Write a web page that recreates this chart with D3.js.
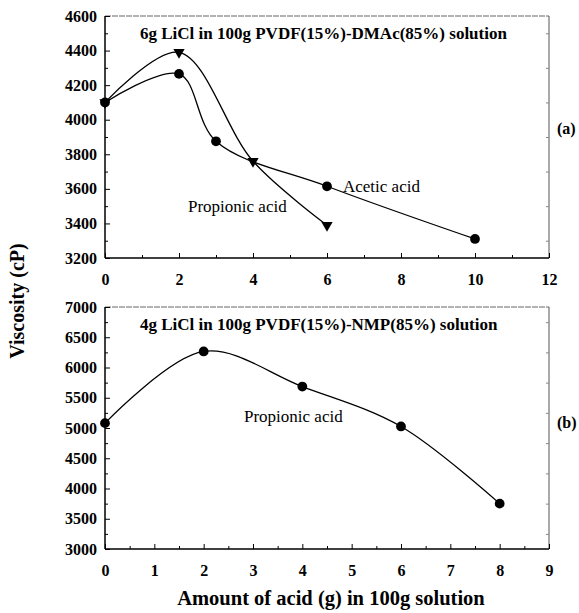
<!DOCTYPE html>
<html>
<head>
<meta charset="utf-8">
<script src="https://cdn.jsdelivr.net/npm/d3@7.9.0/dist/d3.min.js"></script>
<style>
  body { margin: 0; background: #fff; }
  svg { display: block; }
  text { font-family: "Liberation Serif", "Times New Roman", serif; fill: #000; }
  .domain { display: none; }
</style>
</head>
<body>
<svg id="chart" width="579" height="613"></svg>
<script>
// panel (a): 6g LiCl in PVDF/DMAc
const acidAcetic = [0, 2, 3, 6, 10];
const viscAcetic = [4100, 4265, 3875, 3615, 3310];
const acidPropA = [0, 2, 4, 6];
const viscPropA = [4100, 4390, 3760, 3390];
const xTicksA = [0, 2, 4, 6, 8, 10, 12];
const yTicksA = [3200, 3400, 3600, 3800, 4000, 4200, 4400, 4600];

// panel (b): 4g LiCl in PVDF/NMP
const acidPropB = [0, 2, 4, 6, 8];
const viscPropB = [5080, 6265, 5685, 5025, 3750];
const xTicksB = [0, 1, 2, 3, 4, 5, 6, 7, 8, 9];
const yTicksB = [3000, 3500, 4000, 4500, 5000, 5500, 6000, 6500, 7000];

const svg = d3.select("#chart");
const left = 105, right = 549;
const serif = '"Liberation Serif", "Times New Roman", serif';

function panel(top, bottom, xDom, yDom, xTicks, yTicks, xMinor, yMinor) {
  const x = d3.scaleLinear().domain(xDom).range([left, right]);
  const y = d3.scaleLinear().domain(yDom).range([bottom, top]);
  const g = svg.append("g");

  // frame: top and right thin grey
  g.append("line").attr("x1", left).attr("x2", right).attr("y1", top).attr("y2", top)
    .attr("stroke", "#666").attr("stroke-width", 1).attr("stroke-dasharray", "6,1");
  g.append("line").attr("x1", right).attr("x2", right).attr("y1", top).attr("y2", bottom)
    .attr("stroke", "#555").attr("stroke-width", 1);

  // minor ticks
  g.append("g").attr("transform", `translate(0,${bottom})`)
    .call(d3.axisBottom(x).tickValues(xMinor).tickSize(-3).tickFormat(""));
  g.append("g").attr("transform", `translate(${left},0)`)
    .call(d3.axisLeft(y).tickValues(yMinor).tickSize(-3).tickFormat(""));
  // right side faint ticks
  g.append("g").attr("transform", `translate(${right},0)`)
    .call(d3.axisRight(y).tickValues(yMinor).tickSize(-3).tickFormat(""))
    .selectAll("line").attr("stroke", "#888");

  // major ticks with labels
  g.append("g").attr("transform", `translate(0,${bottom})`)
    .call(d3.axisBottom(x).tickValues(xTicks).tickSize(-5).tickPadding(16).tickFormat(d3.format("d")))
    .attr("font-family", serif).attr("font-size", 16).attr("font-weight", "bold");
  g.append("g").attr("transform", `translate(${left},0)`)
    .call(d3.axisLeft(y).tickValues(yTicks).tickSize(-5).tickPadding(8).tickFormat(d3.format("d")))
    .attr("font-family", serif).attr("font-size", 16).attr("font-weight", "bold");

  // left and bottom axis lines
  g.append("line").attr("x1", left).attr("x2", right).attr("y1", bottom).attr("y2", bottom)
    .attr("stroke", "#000").attr("stroke-width", 1.5);
  g.append("line").attr("x1", left).attr("x2", left).attr("y1", top).attr("y2", bottom)
    .attr("stroke", "#000").attr("stroke-width", 1.5);

  g.selectAll(".tick line").attr("stroke-width", 1);
  return { x, y, g };
}

function series(p, xs, ys, marker) {
  const pts = xs.map((d, i) => [d, ys[i]]);
  const line = d3.line().x(d => p.x(d[0])).y(d => p.y(d[1])).curve(d3.curveCatmullRom.alpha(0.5));
  p.g.append("path").attr("d", line(pts)).attr("fill", "none")
    .attr("stroke", "#000").attr("stroke-width", 1.3);
  const sym = marker === "tri"
    ? d3.symbol().type(d3.symbolTriangle).size(55)
    : d3.symbol().type(d3.symbolCircle).size(75);
  p.g.selectAll(null).data(pts).join("path")
    .attr("d", sym)
    .attr("transform", d => `translate(${p.x(d[0])},${p.y(d[1])})` + (marker === "tri" ? " rotate(180)" : ""))
    .attr("fill", "#000");
}

// panel (a)
const pa = panel(16, 258, [0, 12], [3200, 4600], xTicksA, yTicksA,
  d3.range(1, 12, 2), d3.range(3300, 4600, 200));
series(pa, acidPropA, viscPropA, "tri");
series(pa, acidAcetic, viscAcetic, "circle");

// panel (b)
const pb = panel(307, 549, [0, 9], [3000, 7000], xTicksB, yTicksB,
  d3.range(0.5, 9, 1), d3.range(3250, 7000, 500));
series(pb, acidPropB, viscPropB, "circle");

// texts
function label(x, y, s, size, bold) {
  svg.append("text").attr("x", x).attr("y", y).text(s)
    .style("font-size", size + "px").style("font-weight", bold ? "bold" : "normal");
}
label(140, 39, "6g LiCl in 100g PVDF(15%)-DMAc(85%) solution", 17, true);
label(343, 192, "Acetic acid", 17, false);
label(188, 212, "Propionic acid", 17, false);
label(557, 134, "(a)", 16, true);

label(140, 330, "4g LiCl in 100g PVDF(15%)-NMP(85%) solution", 17, true);
label(244, 422, "Propionic acid", 17, false);
label(557, 428, "(b)", 16, true);

svg.append("text").attr("x", 331).attr("y", 605).attr("text-anchor", "middle")
  .style("font-size", "20.5px").style("font-weight", "bold")
  .text("Amount of acid (g) in 100g solution");
svg.append("text").attr("transform", "translate(24,301) rotate(-90)").attr("text-anchor", "middle")
  .style("font-size", "20px").style("font-weight", "bold")
  .text("Viscosity (cP)");
</script>
</body>
</html>
